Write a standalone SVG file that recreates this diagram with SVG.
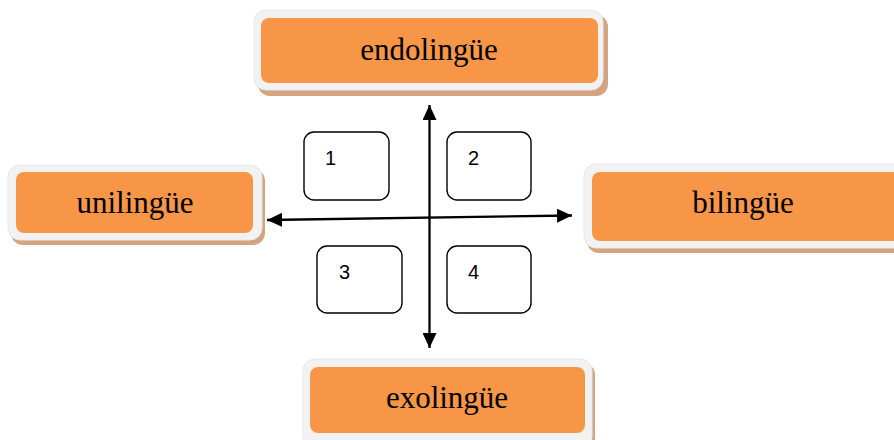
<svg xmlns="http://www.w3.org/2000/svg" width="894" height="440" viewBox="0 0 894 440">
<defs>
<style>
.shadow{fill:#D3A47F}
.frame{fill:#F2F2F2;stroke:#E8E8E8;stroke-width:1}
.inner{fill:#F79646}
.lbl{font-family:"Liberation Serif","Times New Roman",serif;font-size:31px;fill:#000;text-anchor:middle}
.q{fill:#fff;stroke:#000;stroke-width:1.4}
.num{font-family:"Liberation Sans",Arial,sans-serif;font-size:20px;fill:#000}
.ax{stroke:#000;stroke-width:2.3;fill:none;marker-end:url(#ah);marker-start:url(#ah)}
</style>
<marker id="ah" viewBox="0 0 15 14" refX="15" refY="7" markerWidth="15" markerHeight="14" orient="auto-start-reverse" markerUnits="userSpaceOnUse">
<path d="M0,0 L15,7 L0,14 Z" fill="#000"/>
</marker>
</defs>
<g id="endolingue">
<rect class="shadow" x="258" y="15" width="350" height="81" rx="12"/>
<rect class="frame" x="254" y="10" width="349" height="80" rx="12"/>
<rect class="inner" x="261" y="18" width="337" height="65" rx="8"/>
<text class="lbl" x="429" y="60">endolingüe</text>
</g>
<g id="unilingue">
<rect class="shadow" x="11" y="169" width="254" height="76" rx="12"/>
<rect class="frame" x="8" y="165" width="254" height="75" rx="12"/>
<rect class="inner" x="16" y="172" width="237" height="61" rx="8"/>
<text class="lbl" x="135" y="213">unilingüe</text>
</g>
<g id="bilingue">
<rect class="shadow" x="587" y="169" width="330" height="84" rx="12"/>
<rect class="frame" x="584" y="164" width="330" height="84" rx="12"/>
<rect class="inner" x="592" y="172" width="320" height="69" rx="8"/>
<text class="lbl" x="743" y="213">bilingüe</text>
</g>
<g id="exolingue">
<rect class="shadow" x="306" y="363" width="289" height="90" rx="12"/>
<rect class="frame" x="303" y="359" width="289" height="90" rx="12"/>
<rect class="inner" x="310" y="367" width="275" height="66" rx="8"/>
<text class="lbl" x="447" y="408">exolingüe</text>
</g>
<g id="connectors">
<line class="ax" x1="429.5" y1="105" x2="429.5" y2="348"/>
<line class="ax" x1="267" y1="220" x2="572" y2="215.5"/>
</g>
<g id="q1">
<rect class="q" x="304" y="132" width="85" height="68" rx="10"/>
<text class="num" x="325" y="165">1</text>
</g>
<g id="q2">
<rect class="q" x="447" y="132" width="84" height="68" rx="10"/>
<text class="num" x="468" y="165">2</text>
</g>
<g id="q3">
<rect class="q" x="317" y="246" width="85" height="67" rx="10"/>
<text class="num" x="339" y="279">3</text>
</g>
<g id="q4">
<rect class="q" x="447" y="246" width="84" height="67" rx="10"/>
<text class="num" x="468" y="279">4</text>
</g>
</svg>
